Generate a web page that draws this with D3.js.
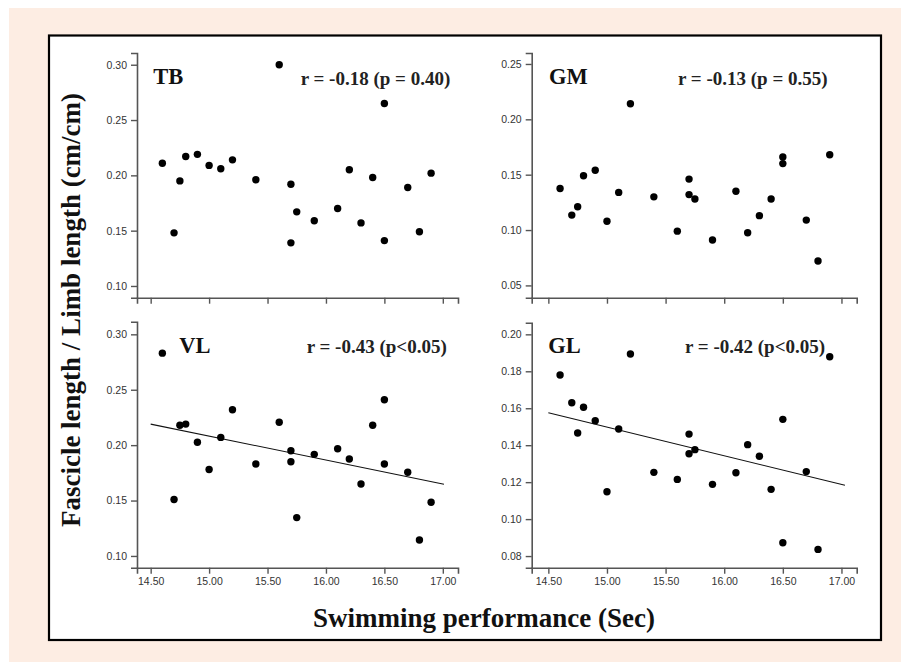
<!DOCTYPE html>
<html><head><meta charset="utf-8">
<script src="https://cdn.jsdelivr.net/npm/d3@7"></script>
<style>
html,body{margin:0;padding:0;background:#fff;}
svg{display:block;}
</style></head>
<body>
<script>
// ---- Data ----
const swimTime = [14.60,14.70,14.75,14.80,14.90,15.00,15.10,15.20,15.40,15.60,15.70,15.70,15.75,15.90,16.10,16.20,16.30,16.40,16.50,16.50,16.70,16.80,16.90];
const tbValues = [0.211,0.148,0.195,0.217,0.219,0.209,0.206,0.214,0.196,0.300,0.192,0.139,0.167,0.159,0.170,0.205,0.157,0.198,0.265,0.141,0.189,0.149,0.202];
const gmValues = [0.1375,0.1135,0.121,0.149,0.154,0.108,0.134,0.214,0.130,0.099,0.146,0.132,0.128,0.091,0.135,0.0975,0.113,0.128,0.166,0.160,0.109,0.072,0.168];
const vlValues = [0.283,0.151,0.218,0.219,0.2026,0.178,0.207,0.232,0.183,0.2206,0.195,0.185,0.1346,0.1917,0.1968,0.1875,0.165,0.218,0.241,0.183,0.1755,0.1144,0.1484];
const glValues = [0.178,0.163,0.1466,0.1605,0.1533,0.1148,0.1488,0.1894,0.1253,0.1215,0.146,0.1354,0.1376,0.1188,0.1251,0.1403,0.134,0.1161,0.154,0.0872,0.1257,0.0836,0.1879];
const xTicks = [14.5,15.0,15.5,16.0,16.5,17.0];
const tbTicks = [0.10,0.15,0.20,0.25,0.30];
const gmTicks = [0.05,0.10,0.15,0.20,0.25];
const vlTicks = [0.10,0.15,0.20,0.25,0.30];
const glTicks = [0.08,0.10,0.12,0.14,0.16,0.18,0.20];
const vlFit = [[14.5,0.219],[17.01,0.1647]];
const glFit = [[14.5,0.1576],[17.03,0.1183]];
const panelNames = ["TB","GM","VL","GL"];
const statLabels = ["r = -0.18 (p = 0.40)","r = -0.13 (p = 0.55)","r = -0.43 (p<0.05)","r = -0.42 (p<0.05)"];
const yTitle = "Fascicle length / Limb length (cm/cm)";
const xTitle = "Swimming performance (Sec)";

// ---- Layout ----
const W = 901, H = 662;
const svg = d3.select("body").append("svg").attr("width", W).attr("height", H);
svg.append("rect").attr("x",9).attr("y",8).attr("width",W-9).attr("height",H-8).attr("fill","#fdede3");
svg.append("rect").attr("x",49).attr("y",35.5).attr("width",832).attr("height",604.5)
  .attr("fill","#fff").attr("stroke","#000").attr("stroke-width",2.2);

const panels = [
  {name:0, vals:tbValues, ticks:tbTicks, xd:[14.383,17.13], xr:[137,458], yd:[0.0894,0.3106], yr:[297.7,53], lbl:[153.3,83.5], st:[300.7,84.5], fit:null, xlab:false},
  {name:1, vals:gmValues, ticks:gmTicks, xd:[14.358,17.13], xr:[531.7,856.7], yd:[0.0389,0.2599], yr:[297.7,53], lbl:[549,83.5], st:[678,85], fit:null, xlab:false},
  {name:2, vals:vlValues, ticks:vlTicks, xd:[14.383,17.13], xr:[137,458], yd:[0.0894,0.3114], yr:[567.7,321.7], lbl:[179.3,352.5], st:[306.7,352.5], fit:vlFit, xlab:true},
  {name:3, vals:glValues, ticks:glTicks, xd:[14.358,17.13], xr:[531.7,856.7], yd:[0.0737,0.2063], yr:[567.7,322.7], lbl:[548.3,352.5], st:[685,352.5], fit:glFit, xlab:true}
];

panels.forEach(p => {
  const x = d3.scaleLinear().domain(p.xd).range(p.xr);
  const y = d3.scaleLinear().domain(p.yd).range(p.yr);
  const g = svg.append("g");
  // x axis
  const xa = g.append("g").attr("transform",`translate(0,${p.yr[0]})`)
    .call(d3.axisBottom(x).tickValues(xTicks).tickSizeOuter(0).tickSize(6).tickPadding(4)
      .tickFormat(p.xlab ? d3.format(".2f") : ""));
  // y axis
  const ya = g.append("g").attr("transform",`translate(${p.xr[0]},0)`)
    .call(d3.axisLeft(y).tickValues(p.ticks).tickSizeOuter(0).tickSize(6).tickPadding(4)
      .tickFormat(d3.format(".2f")));
  [xa,ya].forEach(a => {
    a.select(".domain").attr("stroke","#555").attr("stroke-width",1.6);
    a.selectAll(".tick line").attr("stroke","#555").attr("stroke-width",1.4);
    a.selectAll(".tick text").attr("fill","#333").style("font-family","'Liberation Sans',Arial,sans-serif").style("font-size","10.5px");
  });
  // fit line
  if (p.fit) {
    g.append("line").attr("x1",x(p.fit[0][0])).attr("y1",y(p.fit[0][1]))
      .attr("x2",x(p.fit[1][0])).attr("y2",y(p.fit[1][1]))
      .attr("stroke","#111").attr("stroke-width",1.1);
  }
  // points
  g.selectAll("circle.pt").data(p.vals).enter().append("circle")
    .attr("cx",(d,i)=>x(swimTime[i])).attr("cy",d=>y(d)).attr("r",3.7).attr("fill","#000");
  // labels
  g.append("text").attr("x",p.lbl[0]).attr("y",p.lbl[1]).text(panelNames[p.name])
    .style("font-family","'Liberation Serif','Times New Roman',serif").style("font-weight","bold").style("font-size","22.5px").attr("fill","#111");
  g.append("text").attr("x",p.st[0]).attr("y",p.st[1]).text(statLabels[p.name])
    .style("font-family","'Liberation Serif','Times New Roman',serif").style("font-weight","bold").style("font-size","19px").attr("fill","#222");
});

svg.append("text").attr("transform","translate(80,310) rotate(-90)").attr("text-anchor","middle")
  .text(yTitle).style("font-family","'Liberation Serif','Times New Roman',serif").style("font-weight","bold").style("font-size","27px").attr("fill","#111");
svg.append("text").attr("x",484).attr("y",627).attr("text-anchor","middle")
  .text(xTitle).style("font-family","'Liberation Serif','Times New Roman',serif").style("font-weight","bold").style("font-size","27px").attr("fill","#111");
</script>
</body></html>
